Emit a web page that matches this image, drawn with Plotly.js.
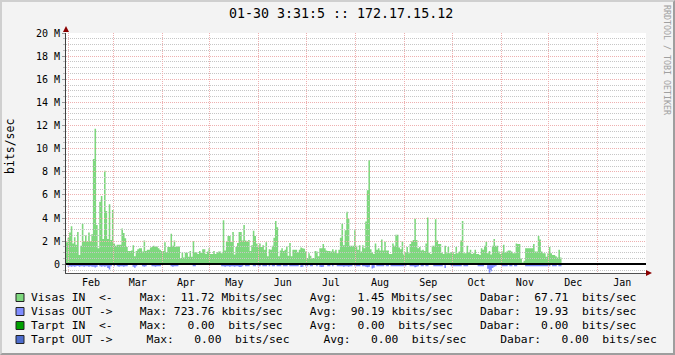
<!DOCTYPE html>
<html><head><meta charset="utf-8">
<script src="https://cdn.plot.ly/plotly-3.0.1.min.js"></script>
<style>
html,body{margin:0;padding:0;background:#f3f3f3;}
#wrap{position:relative;width:675px;height:355px;overflow:hidden;}
#chart{width:675px;height:355px;}
#frame{position:absolute;left:0;top:0;width:675px;height:355px;box-sizing:border-box;border-top:2px solid #cfcfcf;border-left:2px solid #cfcfcf;border-right:2px solid #9e9e9e;border-bottom:2px solid #9e9e9e;pointer-events:none;}
</style></head><body>
<div id="wrap"><div id="chart"></div><div id="frame"></div></div>
<script>
// ---- data (Mbit/s, one value per day starting at startDate) ----
const startDate = '2009-01-30T03:31:00';
const endDate = '2010-01-31T12:00:00';
const inValues = [
 1.9,2.3,2.75,3.3,1.8,2.35,1.7,2.8,0.8,1.6,
 3.5,2.0,2.5,2.0,2.75,2.0,2.6,9.1,11.72,3.4,
 1.4,5.4,5.9,2.2,8.1,4.6,2.2,5.2,2.1,4.7,
 1.8,1.6,1.7,1.7,1.7,3.1,2.7,2.25,1.5,1.15,
 1.15,1.2,1.65,0.7,1.15,1.3,1.4,1.4,1.1,2.05,
 1.15,1.25,1.25,1.45,1.5,1.6,1.55,1.55,1.4,1.25,
 1.15,1.15,1.9,1.05,1.5,1.5,2.65,1.6,2.05,1.5,
 1.55,1.55,0.55,1.0,0.6,1.0,1.0,0.65,1.15,0.65,
 2.0,1.05,1.05,0.9,1.15,1.0,1.3,1.3,0.9,1.1,
 1.4,0.9,0.9,1.15,0.9,1.05,1.1,1.1,0.95,3.8,
 1.2,1.95,2.45,2.45,1.95,
 2.8,0.85,1.5,1.85,2.8,2.8,2.05,3.4,2.05,2.0,
 2.1,1.15,1.65,2.9,2.45,1.8,1.5,1.8,1.5,1.65,
 1.25,1.9,0.7,1.3,1.25,1.6,2.3,3.75,3.2,0.7,
 1.2,1.4,1.15,1.25,1.55,0.75,1.85,0.7,1.25,1.25,
 1.25,1.05,1.25,1.45,1.4,1.35,1.1,0.55,0.95,0.75,
 0.5,0.55,1.15,1.1,0.7,1.4,1.4,1.75,1.4,1.2,
 1.15,1.15,1.1,1.3,1.1,1.25,0.95,1.25,2.3,3.5,
 1.65,2.95,4.55,3.95,1.6,1.6,1.6,2.95,1.6,1.25,
 1.65,1.1,1.65,1.4,3.7,6.4,9.0,1.3,1.0,0.9,
 1.8,1.25,1.4,1.2,2.15,1.2,1.95,1.2,1.2,0.9,
 0.9,1.8,1.6,2.55,2.55,
 1.45,1.3,2.0,0.85,1.05,1.5,0.95,1.75,2.0,2.1,
 3.95,2.1,1.4,1.5,1.2,1.25,1.15,1.8,4.05,1.0,
 0.9,1.6,1.6,3.9,2.05,1.75,1.75,1.0,0.9,1.6,
 0.95,1.5,0.95,1.05,1.05,0.9,1.5,0.95,1.1,2.05,
 3.75,0.95,0.95,1.6,1.05,1.25,0.9,0.95,1.25,0.9,
 0.9,0.8,1.4,1.25,1.6,1.95,0.95,1.15,0.85,1.6,
 2.2,1.6,1.6,1.1,0.9,1.1,1.7,1.05,1.1,1.2,
 1.2,1.1,0.95,0.95,1.8,1.75,1.75,0.5,0.15,0.3,
 1.4,1.4,1.4,1.4,1.4,1.75,1.1,1.1,2.45,2.15,
 1.1,0.95,0.95,0.65,0.95,1.5,0.95,0.8,0.8,0.7,
 0.6,1.25,0.6
];
const outValues = [
 0,.2,.16,.2,.16,.2,.16,.14,.2,.16,
 .16,.2,.16,.16,.2,.16,.2,.22,.28,.22,
 0,.16,.2,.16,.22,.16,.32,.45,.16,0,
 .16,0,.16,.2,.16,.16,.2,.16,.16,0,
 0,0,.2,.3,.16,0,0,0,.16,.2,
 .16,0,0,0,.16,.16,.2,.16,.16,.16,
 0,0,0,0,0,0,.16,.2,.16,.16,
 .16,0,0,0,0,0,0,0,0,0,
 .16,.16,0,0,0,0,0,0,0,0,
 0,0,0,0,0,0,0,0,.16,.16,
 .2,.16,.16,.2,.16,.16,.2,.16,.16,.24,
 .24,.16,0,.16,.16,.16,0,0,.16,.16,
 0,.16,.16,0,.16,.16,.16,0,.16,0,
 .16,.16,0,.16,.16,.16,0,.16,.16,.16,
 0,.16,.16,.16,.16,.16,.16,0,.24,.2,
 0,.16,.16,0,.16,.16,0,0,.16,0,
 .2,.24,.2,0,0,.16,.16,0,.16,0,
 0,.16,.16,.16,.16,.2,.16,.16,.2,.16,
 .16,0,.16,.16,.16,.16,0,.16,.16,.2,
 .26,.2,0,.37,.3,0,.16,.16,.16,.16,
 .16,0,.16,.16,0,.16,.16,.16,.16,.16,
 .16,.16,.16,.16,.16,0,0,.16,.16,.16,
 .26,.2,.16,0,.16,.16,0,.16,.16,0,
 0,0,.16,.16,.16,.16,.16,.16,0,.32,
 0,0,0,.16,.16,.16,.16,.16,.16,.16,
 0,.16,.16,.16,0,0,0,0,0,0,
 .16,.16,.16,.16,0,0,.38,.72,.6,.32,
 .2,.16,0,0,0,.16,.16,.16,.16,0,
 .16,.16,0,.16,.16,0,0,0,0,0,
 .16,.16,.16,.16,.16,.16,.16,.16,.16,.16,
 .16,.16,.16,.16,.16,.16,0,.16,.16,.16,
 0,.16,.16
];
const monthStarts = ['2009-02-01','2009-03-01','2009-04-01','2009-05-01','2009-06-01','2009-07-01',
  '2009-08-01','2009-09-01','2009-10-01','2009-11-01','2009-12-01','2010-01-01','2010-02-01'];
const monthLabels = ['Feb','Mar','Apr','May','Jun','Jul','Aug','Sep','Oct','Nov','Dec','Jan'];
const yTickValues = [0,2,4,6,8,10,12,14,16,18,20];
const yTickLabels = ['0','2 M','4 M','6 M','8 M','10 M','12 M','14 M','16 M','18 M','20 M'];
const yMinorStep = 0.5;
const titleText = '01-30 3:31:5 :: 172.17.15.12';
const legendColors = ['#7ed87e','#7f8cff','#00a000','#4d6ccc'];
const legendRows = [
 'Visas IN  <-    Max:  11.72 Mbits/sec    Avg:   1.45 Mbits/sec    Dabar:  67.71  bits/sec',
 'Visas OUT ->    Max: 723.76 kbits/sec    Avg:  90.19 kbits/sec    Dabar:  19.93  bits/sec',
 'Tarpt IN  <-    Max:   0.00  bits/sec    Avg:   0.00  bits/sec    Dabar:   0.00  bits/sec',
 'Tarpt OUT ->     Max:   0.00  bits/sec     Avg:   0.00  bits/sec     Dabar:   0.00  bits/sec'
];

// ---- build ----
const DAY = 86400000;
const toMs = s => Date.parse(s + (s.length === 10 ? 'T00:00:00Z' : 'Z'));
const t0 = toMs(startDate), t1 = toMs(endDate);
const n = Math.min(inValues.length, outValues.length);
const xs = [], yIn = [], yOut = [];
for (let i = 0; i < n; i++) { xs.push(t0 + i * DAY); yIn.push(inValues[i]); yOut.push(-outValues[i]); }
xs.push(t0 + n * DAY); yIn.push(inValues[n-1]); yOut.push(-outValues[n-1]);

const msStarts = monthStarts.map(toMs);
const monthMid = monthLabels.map((_, k) => (msStarts[k] + msStarts[k+1]) / 2);
const yRange = [-0.75, 20];

const L = 66, T = 33, W = 580, H = 240;
const px = x => (x - L) / W;
const py = y => (T + H - y) / H;
const FONT = 'DejaVu Sans Mono, monospace';
const RED = '#eeb0b0', GREY = '#c6c6c6', DOTS = '1px,1px';

const shapes = [];
shapes.push({type:'rect', layer:'below', xref:'paper', yref:'paper', x0:0, x1:1, y0:0, y1:1, fillcolor:'#ffffff', line:{width:0}});
shapes.push({type:'path', layer:'above', xref:'paper', yref:'paper', xsizemode:'pixel', ysizemode:'pixel', xanchor:0, yanchor:1,
  path:'M-3,1 L3,1 L0,7 Z', fillcolor:'#8b0000', line:{width:0}});
shapes.push({type:'path', layer:'above', xref:'paper', yref:'paper', xsizemode:'pixel', ysizemode:'pixel', xanchor:1, yanchor:0,
  path:'M0,-3 L0,3 L6,0 Z', fillcolor:'#8b0000', line:{width:0}});
const rowY = [297.5, 311.5, 325.5, 339.5];
legendColors.forEach((c, k) => {
  shapes.push({type:'rect', xref:'paper', yref:'paper', xsizemode:'pixel', ysizemode:'pixel', xanchor:px(20), yanchor:py(rowY[k]),
    x0:-4, x1:4, y0:-4, y1:4, fillcolor:c, line:{color:'#222', width:1}});
});

const annotations = [];
annotations.push({xref:'paper', yref:'paper', x:px(340.5), y:py(13), xanchor:'center', yanchor:'middle', showarrow:false,
  text:titleText, font:{family:FONT, size:13.3, color:'#000'}});
annotations.push({xref:'paper', yref:'paper', x:px(10), y:py(147), xanchor:'center', yanchor:'middle', showarrow:false,
  text:'bits/sec', textangle:-90, font:{family:FONT, size:11.5, color:'#000'}});
annotations.push({xref:'paper', yref:'paper', x:px(667), y:py(60), xanchor:'center', yanchor:'middle', showarrow:false,
  text:'RRDTOOL / TOBI OETIKER', textangle:90, font:{family:FONT, size:8.3, color:'#a0a0a0'}});
legendRows.forEach((r, k) => {
  annotations.push({xref:'paper', yref:'paper', x:px(29), y:py(rowY[k]), xanchor:'left', yanchor:'middle', showarrow:false,
    text:r.replace(/ /g, '\u00a0'), font:{family:FONT, size:11.3, color:'#000'}});
});

const traces = [
  {type:'scatter', mode:'lines', x:xs, y:yIn, line:{shape:'hv', width:0, color:legendColors[0]}, fill:'tozeroy', fillcolor:legendColors[0], hoverinfo:'skip'},
  {type:'scatter', mode:'lines', x:xs, y:yOut, line:{shape:'hv', width:0, color:legendColors[1]}, fill:'tozeroy', fillcolor:legendColors[1], hoverinfo:'skip'},
  {type:'scatter', mode:'lines', x:[], y:[], xaxis:'x2', yaxis:'y2', hoverinfo:'skip'}
];

const layout = {
  width:675, height:355,
  margin:{l:L, r:675 - L - W, t:T, b:355 - T - H, pad:0},
  paper_bgcolor:'#f3f3f3', plot_bgcolor:'rgba(0,0,0,0)',
  showlegend:false,
  xaxis:{type:'date', range:[t0, t1], domain:[0,1], anchor:'y', showgrid:false, zeroline:false, showline:true, linecolor:'#505050', linewidth:1,
    tickmode:'array', tickvals:monthMid, ticktext:monthLabels, ticks:'', tickfont:{family:FONT, size:10, color:'#000'}, fixedrange:true},
  yaxis:{range:yRange, domain:[0,1], anchor:'x', showgrid:false, zeroline:false, showline:true, linecolor:'#404040', linewidth:1,
    tickmode:'array', tickvals:yTickValues, ticktext:yTickLabels, ticks:'outside', ticklen:3, tickcolor:'#999',
    minor:{tickmode:'linear', tick0:0, dtick:yMinorStep, ticks:'outside', ticklen:2, tickcolor:'#bbb', showgrid:false},
    tickfont:{family:FONT, size:10, color:'#000'}, fixedrange:true},
  xaxis2:{type:'date', range:[t0, t1], domain:[0,1], anchor:'y2', showticklabels:false, ticks:'', showline:false, zeroline:false,
    tickmode:'array', tickvals:msStarts, showgrid:true, gridcolor:RED, gridwidth:1, griddash:DOTS, fixedrange:true},
  yaxis2:{range:yRange, domain:[0,1], anchor:'x2', showticklabels:false, ticks:'', showline:false,
    tickmode:'array', tickvals:yTickValues, showgrid:true, gridcolor:RED, gridwidth:1, griddash:DOTS,
    minor:{tickmode:'linear', tick0:0, dtick:yMinorStep, showgrid:true, gridcolor:GREY, gridwidth:1, griddash:DOTS, ticks:''},
    zeroline:true, zerolinecolor:'#000000', zerolinewidth:2, fixedrange:true},
  shapes:shapes, annotations:annotations
};
Plotly.newPlot('chart', traces, layout, {staticPlot:true, displayModeBar:false});
</script>
</body></html>
